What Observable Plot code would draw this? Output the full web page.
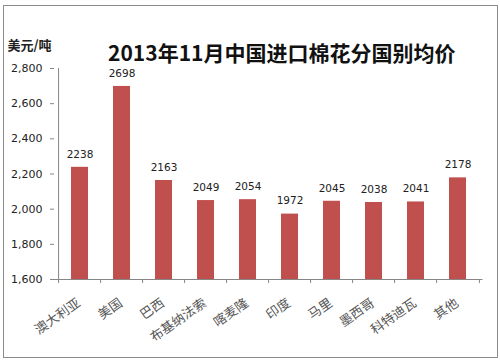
<!DOCTYPE html>
<html>
<head>
<meta charset="utf-8">
<script src="https://cdn.jsdelivr.net/npm/d3@7"></script>
<script src="https://cdn.jsdelivr.net/npm/@observablehq/plot@0.6"></script>
<style>
  html, body { margin: 0; padding: 0; background: #fff; }
  #wrap { position: relative; width: 500px; height: 363px; }
  #border { position: absolute; left: 3px; top: 5px; width: 493px; height: 351px; border: 1px solid #8c8c8c; pointer-events: none; }
</style>
</head>
<body>
<div id="wrap"><div id="border"></div></div>
<script>
const title = "2013年11月中国进口棉花分国别均价";
const unitLabel = "美元/吨";
const categories = ["澳大利亚", "美国", "巴西", "布基纳法索", "喀麦隆", "印度", "马里", "墨西哥", "科特迪瓦", "其他"];
const prices = [2238, 2698, 2163, 2049, 2054, 1972, 2045, 2038, 2041, 2178];
const yTicks = [1600, 1800, 2000, 2200, 2400, 2600, 2800];

const data = categories.map((c, i) => ({country: c, price: prices[i]}));
const numFont = "DejaVu Sans, sans-serif";
const cjk = "Noto Sans CJK SC, sans-serif";
const axisColor = "#868686";
const step = (482.5 - 54) / categories.length;

const chart = Plot.plot({
  width: 500,
  height: 363,
  marginTop: 68,
  marginBottom: 84,
  marginLeft: 54,
  marginRight: 17.5,
  style: {background: "transparent", overflow: "visible"},
  x: {domain: categories, paddingInner: 0.6, paddingOuter: 0.3, axis: null},
  y: {domain: [1600, 2800], axis: null},
  marks: [
    Plot.barY(data, {x: "country", y1: 1600, y2: "price", fill: "#C0504D"}),
    // y axis line
    Plot.ruleX([categories[0]], {x: d => d, y1: 1600, y2: 2800, dx: -step / 2, stroke: axisColor}),
    // x axis baseline
    Plot.ruleY([1600], {stroke: axisColor}),
    // x tick marks at band boundaries
    Plot.ruleX(categories, {x: d => d, y1: 1600, y2: 1600, insetBottom: -4, dx: -step / 2, stroke: axisColor}),
    Plot.ruleX([categories[categories.length - 1]], {x: d => d, y1: 1600, y2: 1600, insetBottom: -4, dx: step / 2, stroke: axisColor}),
    // y axis ticks and labels
    Plot.axisY({ticks: yTicks, tickFormat: d3.format(","), label: null, tickSize: 4, tickPadding: 8, fontSize: 11, fontFamily: numFont, color: "#222", stroke: axisColor}),
    // value labels
    Plot.text(data, {x: "country", y: "price", text: d => String(d.price), dy: -13, fontSize: 10.5, fontFamily: numFont, fill: "#222"}),
    // category labels
    Plot.text(categories, {x: d => d, frameAnchor: "bottom", dy: 22, dx: -1, rotate: -35, textAnchor: "end", lineAnchor: "middle", fontSize: 13, fontFamily: cjk, fill: "#555"}),
    // title
    Plot.text([title], {frameAnchor: "top", dx: 13, dy: -14, lineAnchor: "middle", fontSize: 21, fontWeight: "bold", fontFamily: cjk, fill: "#111"}),
    // unit label
    Plot.text([unitLabel], {frameAnchor: "top-left", dx: -47, dy: -23, textAnchor: "start", lineAnchor: "middle", fontSize: 13, fontWeight: "bold", fontFamily: cjk, fill: "#222"})
  ]
});
document.getElementById("wrap").prepend(chart);
</script>
</body>
</html>
